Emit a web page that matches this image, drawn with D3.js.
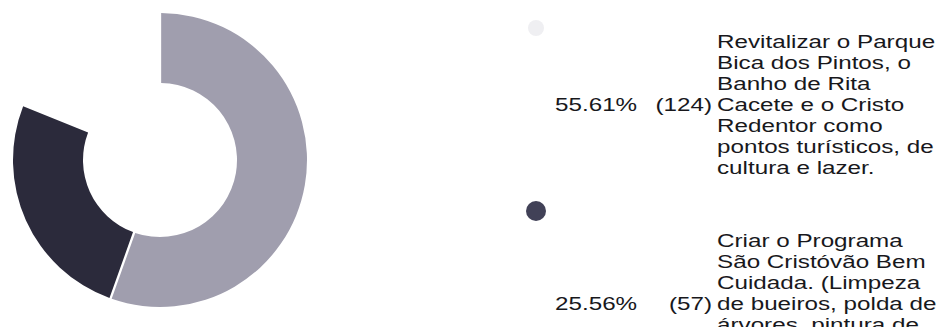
<!DOCTYPE html>
<html lang="pt">
<head>
  <meta charset="utf-8">
  <title>Donut</title>
  <script src="https://d3js.org/d3.v7.min.js"></script>
  <style>
    body { margin: 0; background: #fff; }
    text { font-family: "Liberation Sans", Arial, sans-serif; fill: #18181c; }
  </style>
</head>
<body>
  <script>
    // values
    var counts = [124, 57, 42];
    var percents = ["55.61%", "25.56%", ""];
    var labels = [
      ["Revitalizar o Parque", "Bica dos Pintos, o", "Banho de Rita", "Cacete e o Cristo",
       "Redentor como", "pontos turísticos, de", "cultura e lazer."],
      ["Criar o Programa", "São Cristóvão Bem", "Cuidada. (Limpeza", "de bueiros, polda de",
       "árvores, pintura de"],
      []
    ];
    var colors = ["#a09eae", "#2b2a3b", "#ffffff"];
    var markerColors = ["#efeff2", "#414157", "none"];

    var width = 940, height = 327;
    var outerR = 147, innerR = 77;

    var svg = d3.select("body").append("svg")
      .attr("width", width)
      .attr("height", height);

    var pie = d3.pie().sort(null).value(function(d) { return d; }).padAngle(0.014);
    var arc = d3.arc().innerRadius(innerR).outerRadius(outerR);

    var g = svg.append("g").attr("transform", "translate(160,160)");
    g.selectAll("path")
      .data(pie(counts))
      .enter()
      .append("path")
      .attr("d", arc)
      .style("fill", function(d, i) { return colors[i]; });

    // legend
    var lineH = 21;
    var markerY = [28, 211];
    var firstBase = [48, 246.5];
    var stretch = 1.31;
    var fontSize = 18.5;

    var items = svg.selectAll(".item")
      .data([0, 1])
      .enter()
      .append("g")
      .attr("class", "item");

    items.append("circle")
      .attr("cx", 536)
      .attr("cy", function(i) { return markerY[i]; })
      .attr("r", function(i) { return i === 0 ? 8 : 10; })
      .style("fill", function(i) { return markerColors[i]; });

    items.append("text")
      .attr("transform", function(i) {
        return "translate(555," + (firstBase[i] + 3 * lineH) + ") scale(" + stretch + ",1)";
      })
      .attr("font-size", fontSize)
      .text(function(i) { return percents[i]; });

    items.append("text")
      .attr("transform", function(i) {
        return "translate(712," + (firstBase[i] + 3 * lineH) + ") scale(" + stretch + ",1)";
      })
      .attr("font-size", fontSize)
      .style("text-anchor", "end")
      .text(function(i) { return "(" + counts[i] + ")"; });

    items.each(function(i) {
      d3.select(this).selectAll(".lbl")
        .data(labels[i])
        .enter()
        .append("text")
        .attr("class", "lbl")
        .attr("transform", function(t, k) {
          return "translate(717," + (firstBase[i] + k * lineH) + ") scale(" + stretch + ",1)";
        })
        .attr("font-size", fontSize)
        .text(function(t) { return t; });
    });
  </script>
</body>
</html>
